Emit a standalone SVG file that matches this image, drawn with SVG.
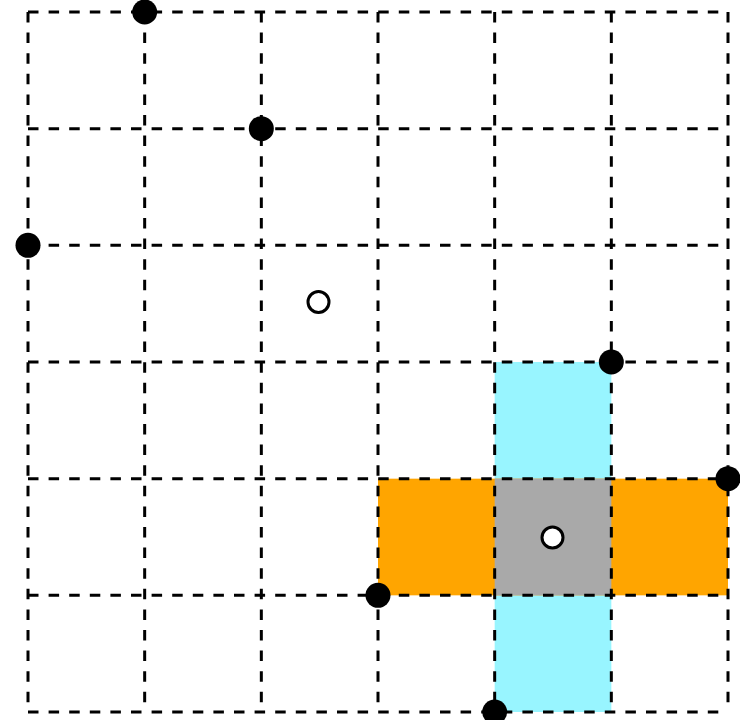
<svg xmlns="http://www.w3.org/2000/svg" width="740" height="720" viewBox="0 0 740 720">
<style>
.grid{fill:none;stroke:#000;stroke-width:3;stroke-dasharray:10.5,10.1}
.dot{fill:#000}
.ring{fill:#fff;stroke:#000;stroke-width:3}
</style>
<rect width="740" height="720" fill="#fff"/>
<g id="fills">
<rect x="494.67" y="362" width="116.67" height="350" fill="#98F5FF"/>
<rect x="378" y="478.67" width="350" height="116.67" fill="#FFA500"/>
<rect x="494.67" y="478.67" width="116.67" height="116.67" fill="#A9A9A9"/>
</g>
<g id="grid" class="grid">
<line x1="28" y1="12" x2="728" y2="12"/>
<line x1="28" y1="128.67" x2="728" y2="128.67"/>
<line x1="28" y1="245.33" x2="728" y2="245.33"/>
<line x1="28" y1="362" x2="728" y2="362"/>
<line x1="28" y1="478.67" x2="728" y2="478.67"/>
<line x1="28" y1="595.33" x2="728" y2="595.33"/>
<line x1="28" y1="712" x2="728" y2="712"/>
<line x1="28" y1="12" x2="28" y2="712"/>
<line x1="144.67" y1="12" x2="144.67" y2="712"/>
<line x1="261.33" y1="12" x2="261.33" y2="712"/>
<line x1="378" y1="12" x2="378" y2="712"/>
<line x1="494.67" y1="12" x2="494.67" y2="712"/>
<line x1="611.33" y1="12" x2="611.33" y2="712"/>
<line x1="728" y1="12" x2="728" y2="712"/>
</g>
<g id="points">
<circle class="dot" cx="144.67" cy="12" r="12.5"/>
<circle class="dot" cx="261.33" cy="128.67" r="12.5"/>
<circle class="dot" cx="28" cy="245.33" r="12.5"/>
<circle class="dot" cx="611.33" cy="362" r="12.5"/>
<circle class="dot" cx="728" cy="478.67" r="12.5"/>
<circle class="dot" cx="378" cy="595.33" r="12.5"/>
<circle class="dot" cx="494.67" cy="712" r="12.5"/>
<circle class="ring" cx="318.5" cy="302" r="10.5"/>
<circle class="ring" cx="552.5" cy="537.5" r="10.5"/>
</g>
</svg>
